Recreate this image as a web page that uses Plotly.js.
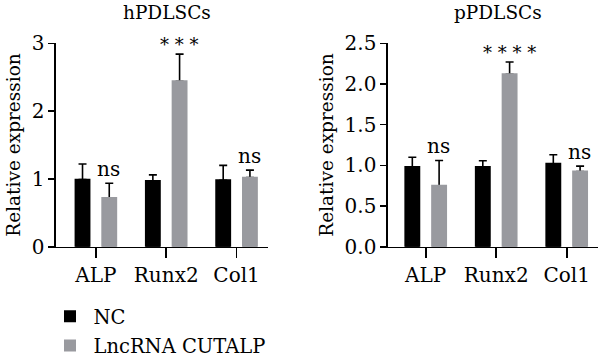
<!DOCTYPE html>
<html>
<head>
<meta charset="utf-8">
<script src="https://cdn.plot.ly/plotly-3.0.1.min.js"></script>
<style>html,body{margin:0;padding:0;background:#fff;}#chart{width:600px;height:358px;}</style>
</head>
<body>
<div id="chart"></div>
<script>
const categories = ['ALP', 'Runx2', 'Col1'];
const seriesNames = ['NC', 'LncRNA CUTALP'];
const hNC = [0.99, 0.97, 0.98];
const hNCsd = [0.23, 0.09, 0.22];
const hLnc = [0.72, 2.44, 1.02];
const hLncSd = [0.215, 0.40, 0.11];
const pNC = [0.98, 0.98, 1.02];
const pNCsd = [0.12, 0.076, 0.11];
const pLnc = [0.75, 2.12, 0.925];
const pLncSd = [0.31, 0.15, 0.065];
const hSig = ['ns', '***', 'ns'];
const pSig = ['ns', '****', 'ns'];
const panelTitles = ['hPDLSCs', 'pPDLSCs'];
const hTicks = [0, 1, 2, 3];
const pTicks = [0, 0.5, 1.0, 1.5, 2.0, 2.5];

const FONT = 'DejaVu Serif';
const BLACK = '#000000';
const GRAY = '#999a9f';
const BW = 0.2;
const OFF = 0.19;

function barPair(vals, sds, color, name, xa, ya, offset, showleg) {
  const main = {
    type: 'bar', x: categories, y: vals, name: name, xaxis: xa, yaxis: ya,
    width: BW, offset: offset - BW / 2,
    marker: {color: color, line: {width: 0}},
    error_y: {type: 'data', symmetric: false, array: sds, arrayminus: sds.map(() => 0),
      color: BLACK, thickness: 1.6, width: 4},
    showlegend: showleg, legendgroup: name, hoverinfo: 'skip'
  };
  const cover = {
    type: 'bar', x: categories, y: vals, name: name, xaxis: xa, yaxis: ya,
    width: BW, offset: offset - BW / 2,
    marker: {color: color, line: {width: 1.8, color: color}},
    showlegend: false, legendgroup: name, hoverinfo: 'skip'
  };
  return [main, cover];
}

const data = [].concat(
  barPair(hNC, hNCsd, BLACK, seriesNames[0], 'x', 'y', -OFF, true),
  barPair(hLnc, hLncSd, GRAY, seriesNames[1], 'x', 'y', OFF, true),
  barPair(pNC, pNCsd, BLACK, seriesNames[0], 'x2', 'y2', -OFF, false),
  barPair(pLnc, pLncSd, GRAY, seriesNames[1], 'x2', 'y2', OFF, false)
);

const annotations = [];
function addSig(sig, vals, sds, xref, yref) {
  sig.forEach((s, i) => {
    const star = s.indexOf('*') >= 0;
    annotations.push({
      text: star ? s.split('').join(' ') : s, x: categories[i], y: vals[i] + sds[i],
      xref: xref, yref: yref, xshift: 13, yshift: star ? -3 : 0,
      xanchor: 'center', yanchor: 'bottom', showarrow: false,
      font: {family: FONT, size: star ? 18 : 20, color: BLACK}
    });
  });
}
addSig(hSig, hLnc, hLncSd, 'x', 'y');
addSig(pSig, pLnc, pLncSd, 'x2', 'y2');
annotations.push({text: panelTitles[0], x: 166.7 / 600, y: 1 - 13 / 358, xref: 'paper', yref: 'paper',
  xanchor: 'center', yanchor: 'middle', showarrow: false, font: {family: FONT, size: 18.5, color: BLACK}});
annotations.push({text: panelTitles[1], x: 498.3 / 600, y: 1 - 13 / 358, xref: 'paper', yref: 'paper',
  xanchor: 'center', yanchor: 'middle', showarrow: false, font: {family: FONT, size: 18.5, color: BLACK}});

const axisFont = {family: FONT, size: 20, color: BLACK};
function xAxis(domain, range, anchor) {
  return {domain: domain, range: range, anchor: anchor, type: 'category',
    showline: true, linecolor: BLACK, linewidth: 1.6, ticks: 'outside', ticklen: 10, tickwidth: 1.6,
    tickcolor: BLACK, showgrid: false, zeroline: false, tickfont: axisFont, fixedrange: true,
    automargin: false};
}
function yAxis(domain, range, anchor, tickvals, fmt) {
  return {domain: domain, range: range, anchor: anchor, showline: true, linecolor: BLACK, linewidth: 1.6,
    ticks: 'outside', ticklen: 6, tickwidth: 1.6, tickcolor: BLACK, showgrid: false, zeroline: false,
    tickvals: tickvals, ticktext: tickvals.map(v => v.toFixed(fmt)), tickfont: axisFont,
    title: {text: 'Relative expression', font: {family: FONT, size: 18.5, color: BLACK}, standoff: 6},
    fixedrange: true, automargin: false};
}

const layout = {
  width: 600, height: 358, margin: {l: 0, r: 0, t: 0, b: 0, autoexpand: false},
  paper_bgcolor: '#fff', plot_bgcolor: '#fff', barmode: 'overlay',
  font: {family: FONT},
  showlegend: true,
  legend: {x: 46.5 / 600, y: 1 - 297 / 358, xanchor: 'left', yanchor: 'top', orientation: 'v',
    traceorder: 'grouped', tracegroupgap: 1, itemwidth: 37,
    font: {family: FONT, size: 19.5, color: BLACK}, bgcolor: 'rgba(0,0,0,0)'},
  xaxis: xAxis([56 / 600, 268 / 600], [-0.567, 2.447], 'y'),
  yaxis: yAxis([1 - 246.7 / 358, 1 - 43.3 / 358], [0, 3], 'x', hTicks, 0),
  xaxis2: xAxis([388 / 600, 598 / 600], [-0.535, 2.444], 'y2'),
  yaxis2: yAxis([1 - 246.7 / 358, 1 - 43.3 / 358], [0, 2.5], 'x2', pTicks, 1),
  annotations: annotations
};

Plotly.newPlot('chart', data, layout, {displayModeBar: false, staticPlot: true});
</script>
</body>
</html>
